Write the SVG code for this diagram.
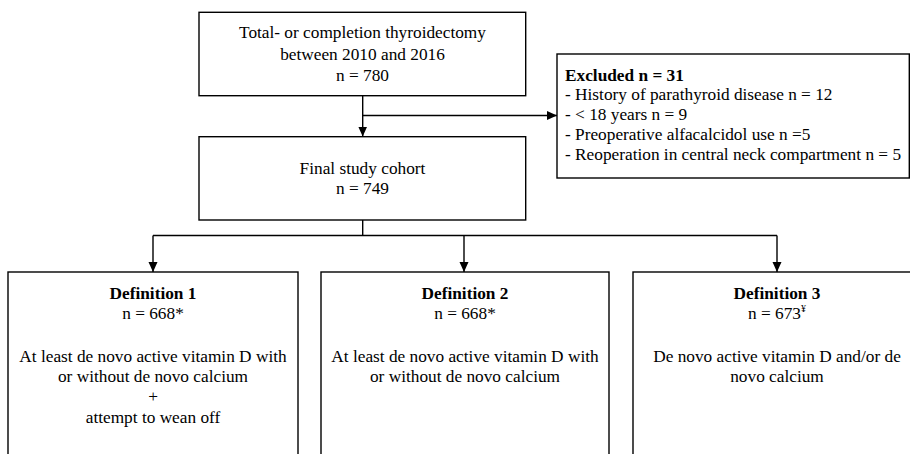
<svg xmlns="http://www.w3.org/2000/svg" width="910" height="454" viewBox="0 0 910 454">
  <style>
    .box { fill: #fff; stroke: #000; stroke-width: 1.4; }
    .line { fill: none; stroke: #000; stroke-width: 1.4; }
    text { font-family: "Liberation Serif", "Times New Roman", serif; font-size: 17.3px; fill: #000; }
    .c { text-anchor: middle; }
    .b { font-weight: bold; }
  </style>
  <defs>
    <marker id="arrow" viewBox="0 0 10 10" refX="10" refY="5" markerWidth="10" markerHeight="10" markerUnits="userSpaceOnUse" orient="auto">
      <path d="M0,0.5 L10,5 L0,9.5 Z" fill="#000"/>
    </marker>
  </defs>

  <rect width="910" height="454" fill="#fff"/>

  <g id="connectors">
    <!-- total cohort to final cohort, with branch to exclusions -->
    <line class="line" x1="362.7" y1="95.7" x2="362.7" y2="136.5" marker-end="url(#arrow)"/>
    <line class="line" x1="362.7" y1="115.5" x2="557" y2="115.5" marker-end="url(#arrow)"/>
    <!-- final cohort to the three definitions -->
    <line class="line" x1="362.7" y1="220" x2="362.7" y2="235.5"/>
    <line class="line" x1="153" y1="235.5" x2="777" y2="235.5"/>
    <line class="line" x1="153" y1="235.5" x2="153" y2="272" marker-end="url(#arrow)"/>
    <line class="line" x1="464" y1="235.5" x2="464" y2="272" marker-end="url(#arrow)"/>
    <line class="line" x1="777" y1="235.5" x2="777" y2="272" marker-end="url(#arrow)"/>
  </g>

  <g id="total">
    <rect class="box" x="199" y="12.3" width="326.7" height="83.4"/>
    <text class="c" x="362.5" y="38">Total- or completion thyroidectomy</text>
    <text class="c" x="362.5" y="60">between 2010 and 2016</text>
    <text class="c" x="362.5" y="81">n = 780</text>
  </g>

  <g id="excluded">
    <rect class="box" x="557" y="54" width="352.3" height="124"/>
    <text class="b" x="565" y="80.7">Excluded n = 31</text>
    <text x="565" y="100.3">- History of parathyroid disease n = 12</text>
    <text x="565" y="120">- &lt; 18 years n = 9</text>
    <text x="565" y="140">- Preoperative alfacalcidol use n =5</text>
    <text x="565" y="160">- Reoperation in central neck compartment n = 5</text>
  </g>

  <g id="final">
    <rect class="box" x="199" y="136.7" width="326.7" height="83.3"/>
    <text class="c" x="362.5" y="174">Final study cohort</text>
    <text class="c" x="362.5" y="194">n = 749</text>
  </g>

  <g id="definition1">
    <rect class="box" x="8" y="272" width="290" height="200"/>
    <text class="c b" x="153" y="299.3">Definition 1</text>
    <text class="c" x="153" y="318.5">n = 668*</text>
    <text class="c" x="153" y="362">At least de novo active vitamin D with</text>
    <text class="c" x="153" y="382">or without de novo calcium</text>
    <text class="c" x="153" y="402">+</text>
    <text class="c" x="153" y="423">attempt to wean off</text>
  </g>

  <g id="definition2">
    <rect class="box" x="321" y="272" width="288" height="200"/>
    <text class="c b" x="465" y="299.3">Definition 2</text>
    <text class="c" x="465" y="318.5">n = 668*</text>
    <text class="c" x="465" y="362">At least de novo active vitamin D with</text>
    <text class="c" x="465" y="382">or without de novo calcium</text>
  </g>

  <g id="definition3">
    <rect class="box" x="633" y="272" width="288" height="200"/>
    <text class="c b" x="777" y="299.3">Definition 3</text>
    <text class="c" x="777" y="318.5">n = 673<tspan font-size="10px" dy="-7">¥</tspan></text>
    <text class="c" x="777" y="362">De novo active vitamin D and/or de</text>
    <text class="c" x="777" y="382">novo calcium</text>
  </g>
</svg>
